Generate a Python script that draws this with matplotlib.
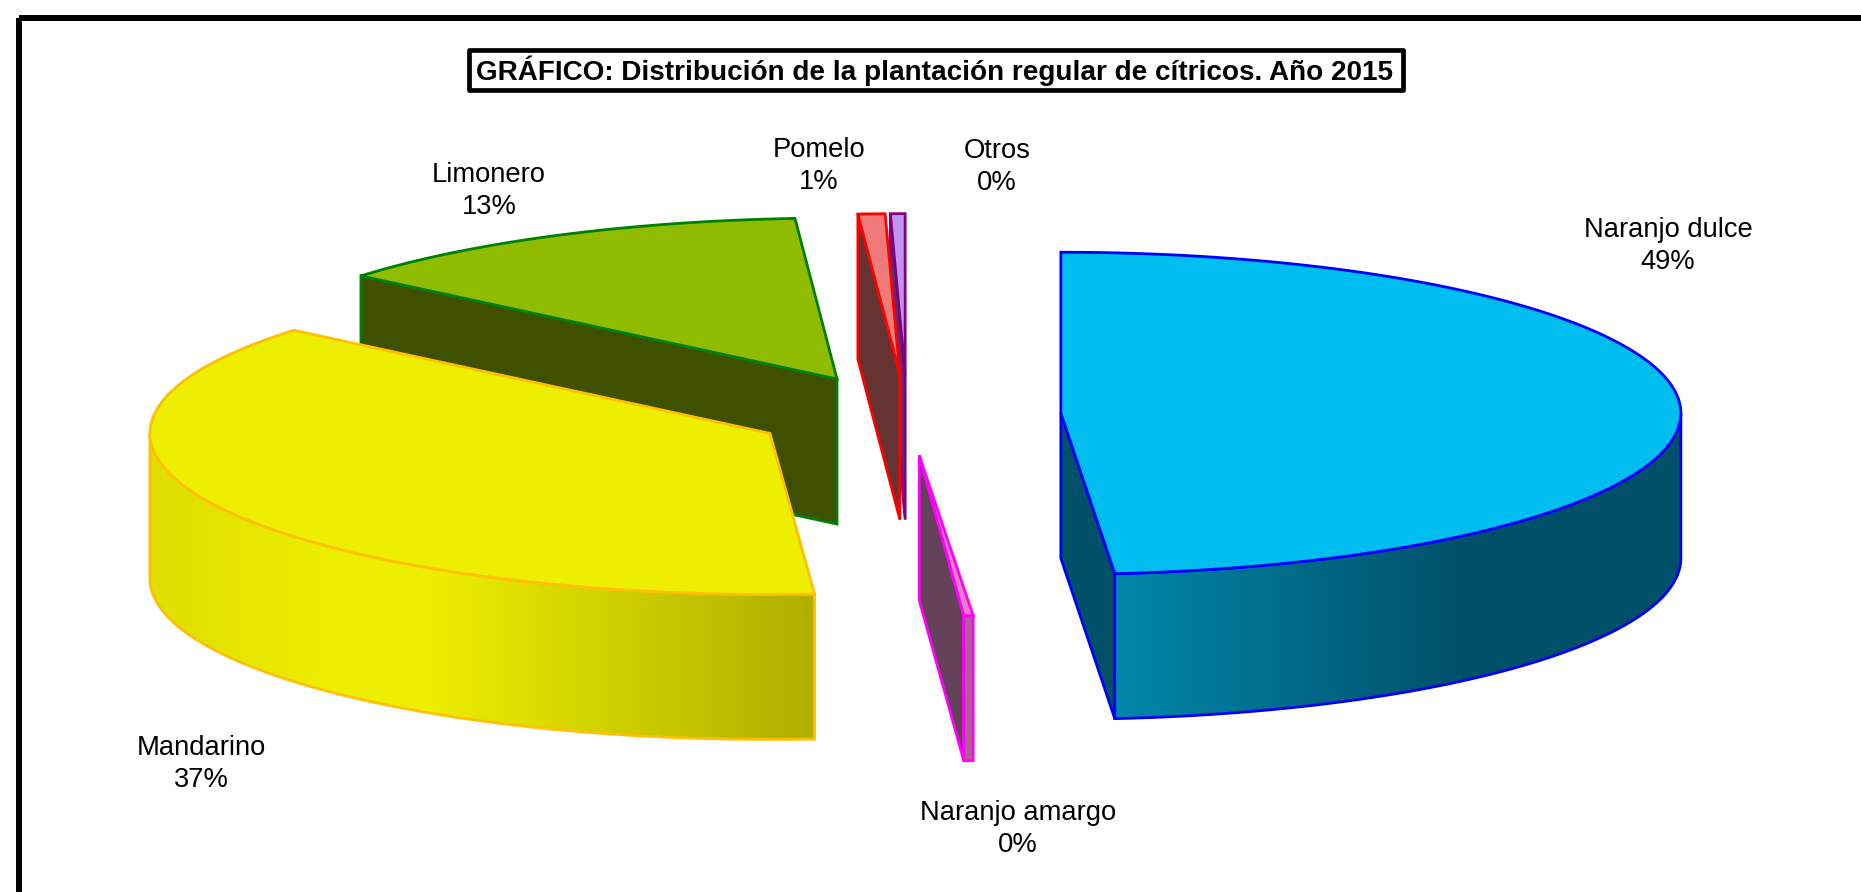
import numpy as np
import matplotlib
matplotlib.use("Agg")
import matplotlib.pyplot as plt
from matplotlib.patches import Polygon, Rectangle
from matplotlib.colors import LinearSegmentedColormap

plt.rcParams['font.family'] = ['Liberation Sans', 'DejaVu Sans']

title = "GRÁFICO: Distribución de la plantación regular de cítricos. Año 2015"
names = ["Naranjo dulce", "Naranjo amargo", "Mandarino", "Limonero", "Pomelo", "Otros"]
shares = [48.6, 0.24, 37.2, 12.85, 0.7, 0.38]

# colours, same order as names
top_cols = ["#00BDF0", "#F080C4", "#EEEE00", "#8FBC00", "#F07A7A", "#BF94EE"]
edge_cols = ["#0000FF", "#FF00FF", "#FFC000", "#008000", "#FF0000", "#800080"]
side_cols = ["#00506A", "#66415A", "#AFAF00", "#3F5000", "#663333", "#5D2E72"]
rim_stops = [[(0, "#0087AA"), (0.61, "#00506A"), (1, "#00506A")],
             [(0, "#B0608F"), (1, "#B0608F")],
             [(0, "#DEDE00"), (0.27, "#EEEE00"), (0.42, "#EEEE00"), (1, "#AFAF00")],
             None, None, None]
label_pos = [(1668, 246), (1018, 829), (201, 764), (489, 191), (819, 166), (997, 167)]
draw_order = [5, 4, 3, 2, 1, 0]

# projection of the pie
cx, cy = 907, 415
rx, ry = 620, 161
depth = 145
explode = 154
explode_tilt = 0.262


def arc(c, a, b, n=200):
    t = np.radians(np.linspace(a, b, n))
    return np.column_stack([c[0] + rx * np.sin(t), c[1] - ry * np.cos(t)])


fig = plt.figure(figsize=(18.61, 8.92), dpi=100)
ax = fig.add_axes([0, 0, 1, 1])

edges = np.cumsum([0] + shares) / sum(shares) * 360

for i in draw_order:
    a, b = edges[i], edges[i + 1]
    mid = np.radians((a + b) / 2)
    c = (cx + explode * np.sin(mid), cy - explode * explode_tilt * np.cos(mid))
    down = np.array([0, depth])
    style = dict(edgecolor=edge_cols[i], linewidth=2.0, joinstyle='miter')

    # cut faces that look towards the viewer
    for ang, show in ((a, np.sin(np.radians(a)) < 0), (b, np.sin(np.radians(b)) > 0)):
        if show:
            p = arc(c, ang, ang, 1)[0]
            ax.add_patch(Polygon([c, p, p + down, np.array(c) + down], facecolor=side_cols[i], **style))

    # outer wall, only the front part shows
    lo, hi = max(a, 90), min(b, 270)
    if lo < hi:
        rim = arc(c, lo, hi)
        outline = np.vstack([rim, (rim + down)[::-1]])
        cmap = LinearSegmentedColormap.from_list("rim" + str(i), rim_stops[i])
        x0, x1 = rim[:, 0].min(), rim[:, 0].max()
        grad = ax.imshow(np.linspace(0, 1, 256)[None, :], cmap=cmap, aspect='auto',
                         extent=(x0, x1, outline[:, 1].max(), outline[:, 1].min()), zorder=1)
        patch = Polygon(outline, facecolor='none', **style)
        ax.add_patch(patch)
        grad.set_clip_path(patch)

    # top face
    ax.add_patch(Polygon(np.vstack([[c], arc(c, a, b)]), facecolor=top_cols[i], **style))

for name, share, pos in zip(names, shares, label_pos):
    ax.text(pos[0], pos[1], f"{name}\n{share:.0f}%", ha='center', va='center',
            fontsize=19.7, linespacing=1.26, color='black')

# outer frame runs off the picture on the right and at the bottom
ax.add_patch(Rectangle((19, 17.5), 2000, 1000, fill=False, edgecolor='black', linewidth=4.3, joinstyle='round'))

# title box
ax.add_patch(Rectangle((469, 50), 934, 40, facecolor='white', edgecolor='black', linewidth=3.4, joinstyle='round'))
ax.text(935, 70.5, title, ha='center', va='center', fontsize=20.05, fontweight='bold')

ax.set_xlim(0, 1861)
ax.set_ylim(892, 0)
ax.axis('off')
fig.savefig("out.png", dpi=100)
